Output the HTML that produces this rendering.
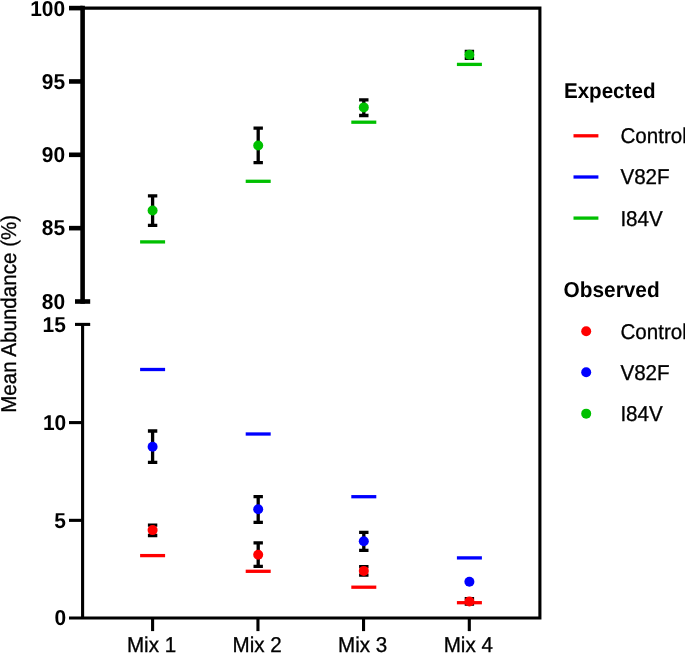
<!DOCTYPE html>
<html lang="en"><head><meta charset="utf-8"><title>Mean Abundance chart</title>
<style>html,body{margin:0;padding:0;background:#fff;overflow:hidden}svg{display:block}text{font-family:"Liberation Sans",Arial,Helvetica,sans-serif;fill:#000;text-rendering:geometricPrecision}.b{font-weight:bold}</style></head><body>
<svg width="685" height="653" viewBox="0 0 685 653">
<rect width="685" height="653" fill="#fff"/>
<g stroke="#000" fill="none" stroke-linecap="butt">
<path d="M82.6 8.1 H539.9 V618.0 H69" stroke-width="3.1" stroke-linejoin="miter"/>
<path d="M82.6 324.4 V618.0" stroke-width="3.1"/>
<path d="M75 324.4 H90.2" stroke-width="3.1"/>
<path d="M82.6 5.8 V303.8" stroke-width="4.6"/>
<path d="M75 301.5 H90.2" stroke-width="4.6"/>
<path d="M69 8.10 H82.6" stroke-width="4.6"/>
<path d="M69 81.45 H82.6" stroke-width="4.6"/>
<path d="M69 154.80 H82.6" stroke-width="4.6"/>
<path d="M69 228.15 H82.6" stroke-width="4.6"/>
<path d="M69 422.60 H82.6" stroke-width="3.1"/>
<path d="M69 520.35 H82.6" stroke-width="3.1"/>
<path d="M152.6 618.0 V631.1" stroke-width="3.1"/>
<path d="M257.95 618.0 V631.1" stroke-width="3.1"/>
<path d="M363.55 618.0 V631.1" stroke-width="3.1"/>
<path d="M469.3 618.0 V631.1" stroke-width="3.1"/>
</g>
<text class="b" transform="translate(65.10 15.55) scale(1 1.03)" font-size="20.95" text-anchor="end">100</text>
<text class="b" transform="translate(65.10 88.60) scale(1 1.03)" font-size="20.95" text-anchor="end">95</text>
<text class="b" transform="translate(65.10 161.95) scale(1 1.03)" font-size="20.95" text-anchor="end">90</text>
<text class="b" transform="translate(65.10 235.30) scale(1 1.03)" font-size="20.95" text-anchor="end">85</text>
<text class="b" transform="translate(65.10 308.65) scale(1 1.03)" font-size="20.95" text-anchor="end">80</text>
<text class="b" transform="translate(65.80 331.55) scale(1 1.03)" font-size="20.95" text-anchor="end">15</text>
<text class="b" transform="translate(66.20 429.75) scale(1 1.03)" font-size="20.95" text-anchor="end">10</text>
<text class="b" transform="translate(66.00 527.55) scale(1 1.03)" font-size="20.95" text-anchor="end">5</text>
<text class="b" transform="translate(66.20 625.45) scale(1 1.03)" font-size="20.95" text-anchor="end">0</text>
<text transform="translate(151.50 651.90) scale(1 1.04)" font-size="20.6" text-anchor="middle" stroke="#000" stroke-width="0.3">Mix 1</text>
<text transform="translate(257.10 651.90) scale(1 1.04)" font-size="20.6" text-anchor="middle" stroke="#000" stroke-width="0.3">Mix 2</text>
<text transform="translate(362.70 651.90) scale(1 1.04)" font-size="20.6" text-anchor="middle" stroke="#000" stroke-width="0.3">Mix 3</text>
<text transform="translate(468.30 651.90) scale(1 1.04)" font-size="20.6" text-anchor="middle" stroke="#000" stroke-width="0.3">Mix 4</text>
<text transform="translate(15.5 313.8) rotate(-90) scale(1 1.04)" font-size="20.6" text-anchor="middle" stroke="#000" stroke-width="0.3">Mean Abundance (%)</text>
<path d="M152.6 195.8 V225.3 M147.9 195.8 H157.3 M147.9 225.3 H157.3" stroke="#000" stroke-width="3.3" fill="none"/>
<path d="M258.2 128.2 V162.7 M253.5 128.2 H262.9 M253.5 162.7 H262.9" stroke="#000" stroke-width="3.3" fill="none"/>
<path d="M363.8 99.8 V115.5 M359.1 99.8 H368.5 M359.1 115.5 H368.5" stroke="#000" stroke-width="3.3" fill="none"/>
<path d="M469.4 51.3 V58.3 M464.7 51.3 H474.1 M464.7 58.3 H474.1" stroke="#000" stroke-width="3.3" fill="none"/>
<path d="M152.6 431.0 V462.4 M147.9 431.0 H157.3 M147.9 462.4 H157.3" stroke="#000" stroke-width="3.3" fill="none"/>
<path d="M258.2 496.6 V522.3 M253.5 496.6 H262.9 M253.5 522.3 H262.9" stroke="#000" stroke-width="3.3" fill="none"/>
<path d="M363.8 532.3 V550.4 M359.1 532.3 H368.5 M359.1 550.4 H368.5" stroke="#000" stroke-width="3.3" fill="none"/>
<path d="M152.6 525.1 V535.5 M147.9 525.1 H157.3 M147.9 535.5 H157.3" stroke="#000" stroke-width="3.3" fill="none"/>
<path d="M258.2 542.8 V566.4 M253.5 542.8 H262.9 M253.5 566.4 H262.9" stroke="#000" stroke-width="3.3" fill="none"/>
<path d="M363.8 566.6 V575.2 M359.1 566.6 H368.5 M359.1 575.2 H368.5" stroke="#000" stroke-width="3.3" fill="none"/>
<path d="M469.4 598.65 V604.05 M464.7 598.65 H474.1 M464.7 604.05 H474.1" stroke="#000" stroke-width="3.3" fill="none"/>
<path d="M140.1 241.9 H165.1" stroke="#00c000" stroke-width="3.3" fill="none"/>
<path d="M245.7 181.3 H270.7" stroke="#00c000" stroke-width="3.3" fill="none"/>
<path d="M351.3 122.2 H376.3" stroke="#00c000" stroke-width="3.3" fill="none"/>
<path d="M456.9 64.4 H481.9" stroke="#00c000" stroke-width="3.3" fill="none"/>
<path d="M140.1 369.5 H165.1" stroke="#0000ff" stroke-width="3.3" fill="none"/>
<path d="M245.7 434.0 H270.7" stroke="#0000ff" stroke-width="3.3" fill="none"/>
<path d="M351.3 496.7 H376.3" stroke="#0000ff" stroke-width="3.3" fill="none"/>
<path d="M456.9 557.9 H481.9" stroke="#0000ff" stroke-width="3.3" fill="none"/>
<path d="M140.1 555.6 H165.1" stroke="#ff0000" stroke-width="3.3" fill="none"/>
<path d="M245.7 571.3 H270.7" stroke="#ff0000" stroke-width="3.3" fill="none"/>
<path d="M351.3 587.2 H376.3" stroke="#ff0000" stroke-width="3.3" fill="none"/>
<path d="M456.9 602.7 H481.9" stroke="#ff0000" stroke-width="3.3" fill="none"/>
<circle cx="152.6" cy="210.5" r="5.0" fill="#00c000"/>
<circle cx="258.2" cy="145.5" r="5.0" fill="#00c000"/>
<circle cx="363.8" cy="107.4" r="5.0" fill="#00c000"/>
<circle cx="469.4" cy="54.8" r="5.0" fill="#00c000"/>
<circle cx="152.6" cy="446.7" r="5.0" fill="#0000ff"/>
<circle cx="258.2" cy="509.3" r="5.0" fill="#0000ff"/>
<circle cx="363.8" cy="541.3" r="5.0" fill="#0000ff"/>
<circle cx="469.4" cy="581.7" r="5.0" fill="#0000ff"/>
<circle cx="152.6" cy="530.1" r="5.0" fill="#ff0000"/>
<circle cx="258.2" cy="554.8" r="5.0" fill="#ff0000"/>
<circle cx="363.8" cy="570.9" r="5.0" fill="#ff0000"/>
<circle cx="469.4" cy="601.5" r="5.0" fill="#ff0000"/>
<text class="b" transform="translate(563.90 97.80) scale(1 1.04)" font-size="20.6">Expected</text>
<text class="b" transform="translate(563.50 297.10) scale(1 1.04)" font-size="20.85">Observed</text>
<path d="M573.5 135.8 H598.4" stroke="#ff0000" stroke-width="3.3" fill="none"/>
<text transform="translate(620.40 143.25) scale(1 1.04)" font-size="20.6" stroke="#000" stroke-width="0.3">Control</text>
<path d="M573.5 177.0 H598.4" stroke="#0000ff" stroke-width="3.3" fill="none"/>
<text transform="translate(620.40 184.45) scale(1 1.04)" font-size="20.6" stroke="#000" stroke-width="0.3">V82F</text>
<path d="M573.5 218.1 H598.4" stroke="#00c000" stroke-width="3.3" fill="none"/>
<text transform="translate(620.40 225.55) scale(1 1.04)" font-size="20.6" stroke="#000" stroke-width="0.3">I84V</text>
<circle cx="586.2" cy="331.2" r="5.0" fill="#ff0000"/>
<text transform="translate(620.40 338.65) scale(1 1.04)" font-size="20.6" stroke="#000" stroke-width="0.3">Control</text>
<circle cx="586.2" cy="372.2" r="5.0" fill="#0000ff"/>
<text transform="translate(620.40 379.65) scale(1 1.04)" font-size="20.6" stroke="#000" stroke-width="0.3">V82F</text>
<circle cx="586.2" cy="413.65000000000003" r="5.0" fill="#00c000"/>
<text transform="translate(620.40 420.75) scale(1 1.04)" font-size="20.6" stroke="#000" stroke-width="0.3">I84V</text>
</svg></body></html>
